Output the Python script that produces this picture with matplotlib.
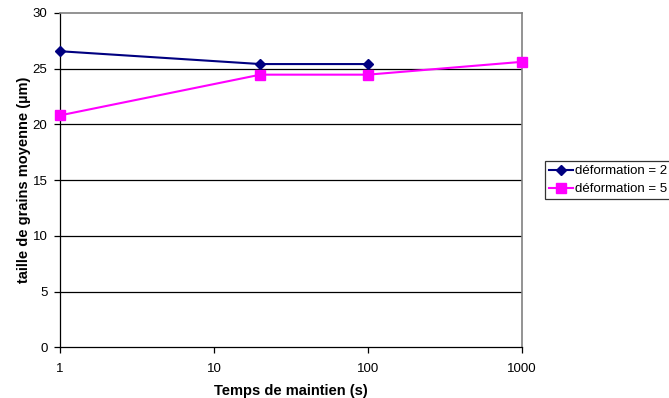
import matplotlib.pyplot as plt
from matplotlib.ticker import FixedLocator, NullLocator

plt.rcParams['font.family'] = ['Liberation Sans', 'DejaVu Sans']

# data
temps_def2 = [1, 20, 100]
taille_def2 = [26.55, 25.4, 25.4]
temps_def5 = [1, 20, 100, 1000]
taille_def5 = [20.8, 24.45, 24.45, 25.6]
y_ticks = [0, 5, 10, 15, 20, 25, 30]
x_ticks = [1, 10, 100, 1000]
x_labels = ["1", "10", "100", "1000"]

fig = plt.figure(figsize=(6.69, 3.98), dpi=100)
ax = fig.add_axes([0.0897, 0.127, 0.6906, 0.841])

ax.plot(temps_def2, taille_def2, color="#000080", marker="D", markersize=5,
        linewidth=1.5, label="déformation = 2", clip_on=False, zorder=4)
ax.plot(temps_def5, taille_def5, color="#FF00FF", marker="s", markersize=7,
        linewidth=1.5, label="déformation = 5", clip_on=False, zorder=3)

ax.set_xscale("log")
ax.set_xlim(1, 1000)
ax.set_ylim(0, 30)
ax.xaxis.set_major_locator(FixedLocator(x_ticks))
ax.xaxis.set_minor_locator(NullLocator())
ax.set_xticklabels(x_labels)
ax.set_yticks(y_ticks)

for y in y_ticks[1:-1]:
    ax.axhline(y, color="black", linewidth=0.9, zorder=0)

for s in ["top", "right"]:
    ax.spines[s].set_color("#808080")
    ax.spines[s].set_linewidth(1.2)
for s in ["left", "bottom"]:
    ax.spines[s].set_color("black")
    ax.spines[s].set_linewidth(0.9)

ax.tick_params(axis="both", direction="out", length=4, width=0.9, labelsize=9.5, pad=5)
ax.tick_params(axis="x", pad=7)
ax.set_xlabel("Temps de maintien (s)", fontsize=10.5, fontweight="bold", labelpad=7)
ax.set_ylabel("taille de grains moyenne (µm)", fontsize=10.5, fontweight="bold", labelpad=1)

leg = fig.legend(loc="upper left", bbox_to_anchor=(545 / 669, 1 - 161 / 398),
                 fontsize=9.5, frameon=True, fancybox=False, handlelength=1.8,
                 borderpad=0.3, labelspacing=0.45, handletextpad=0.2, borderaxespad=0)
leg.get_frame().set_edgecolor("black")
leg.get_frame().set_linewidth(0.9)

fig.savefig("out.png", dpi=100)
